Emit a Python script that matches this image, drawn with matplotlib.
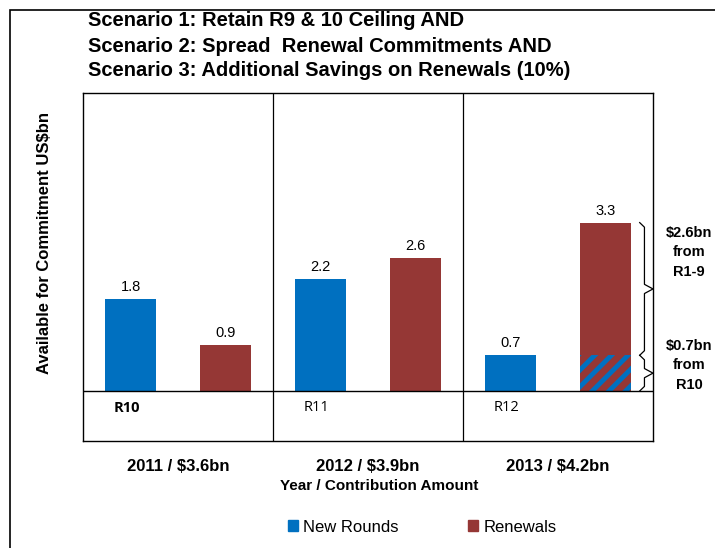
import matplotlib
matplotlib.use("Agg")
import matplotlib.pyplot as plt
from matplotlib.patches import Rectangle, Patch
from matplotlib.lines import Line2D

# Chart data
years = ["2011 / $3.6bn", "2012 / $3.9bn", "2013 / $4.2bn"]
rounds = ["R10", "R11", "R12"]
new_rounds = [1.8, 2.2, 0.7]
renewals = [0.9, 2.6, 3.3]
r10_carryover = 0.7          # part of the 2013 renewals funded from R10
title_lines = [
    "Scenario 1: Retain R9 & 10 Ceiling AND",
    "Scenario 2: Spread  Renewal Commitments AND",
    "Scenario 3: Additional Savings on Renewals (10%)",
]

BLUE = "#0070C0"
RED = "#953735"

plt.rcParams["font.family"] = ["Liberation Sans", "DejaVu Sans"]
plt.rcParams["hatch.linewidth"] = 3.5

fig = plt.figure(figsize=(7.15, 5.48), dpi=100)
ax = fig.add_axes([83 / 715, 1 - 441 / 548, 570 / 715, 348 / 548])

x = list(range(len(years)))
w = 0.264
off = 0.25
ax.bar([i - off for i in x], new_rounds, w, color=BLUE, zorder=2)
ax.bar([i + off for i in x], renewals, w, color=RED, zorder=2)
# striped base of the 2013 renewals bar
ax.bar(2 + off, r10_carryover, w, color=RED, edgecolor=BLUE, hatch="//",
       linewidth=0, zorder=3)

for i in x:
    ax.text(i - off, new_rounds[i] + 0.1, f"{new_rounds[i]:.1f}", ha="center",
            va="bottom", fontsize=10.5)
    ax.text(i + off, renewals[i] + 0.1, f"{renewals[i]:.1f}", ha="center",
            va="bottom", fontsize=10.5)
    ax.text(i - 0.34, -0.33, rounds[i], ha="left", va="center", fontsize=10.5,
            family=["Open Sans", "DejaVu Sans"],
            fontweight="bold" if i == 0 else "normal")

ax.set_xlim(-0.5, 2.5)
ax.set_ylim(-0.98, 5.84)
ax.axhline(0, color="black", lw=1, zorder=4)
for b in (0.5, 1.5):
    ax.axvline(b, color="black", lw=0.9)
for s in ax.spines.values():
    s.set_linewidth(1)
ax.set_yticks([])
ax.set_xticks(x)
ax.set_xticklabels(years, fontweight="bold", fontsize=12)
ax.tick_params(axis="x", length=0, pad=13)
ax.set_xlabel("Year / Contribution Amount", fontweight="bold", fontsize=11)
ax.xaxis.set_label_coords(0.52, -0.11)
ax.set_ylabel("Available for Commitment US$bn", fontweight="bold", fontsize=12)
ax.yaxis.set_label_coords(-0.055, 0.57)


def brace(y0, y1, xl=2.43, xm=2.455, xr=2.5, d=0.09):
    ym = (y0 + y1) / 2
    xs = [xl, xm, xm, xr, xm, xm, xl]
    ys = [y1, y1 - d, ym + d, ym, ym - d, y0 + d, y0]
    ax.add_line(Line2D(xs, ys, color="black", lw=0.9, clip_on=False, zorder=5))
    return ym


top = renewals[2]
ym1 = brace(r10_carryover, top)
ym2 = brace(0, r10_carryover)
ax.text(2.69, ym1 + 0.72, f"${top - r10_carryover:.1f}bn\nfrom\nR1-9",
        ha="center", va="center", fontweight="bold", fontsize=10.5,
        linespacing=1.5, clip_on=False)
ax.text(2.69, ym2 + 0.15, f"${r10_carryover:.1f}bn\nfrom\nR10",
        ha="center", va="center", fontweight="bold", fontsize=10.5,
        linespacing=1.5, clip_on=False)

# three-line heading
for k, line in enumerate(title_lines):
    fig.text(88 / 715, 1 - (21 + 25 * k) / 548, line, ha="left", va="center",
             fontweight="bold", fontsize=14.5)

handles = [Patch(color=BLUE, label="New Rounds"), Patch(color=RED, label="Renewals")]
fig.legend(handles=handles, loc="center", bbox_to_anchor=(422 / 715, 1 - 527 / 548),
           ncol=2, frameon=False, fontsize=12, handlelength=0.6, handleheight=0.6,
           handletextpad=0.3, columnspacing=4.2)

# outer frame running off the right and bottom edges
fig.add_artist(Rectangle((10 / 715, -0.1), 1.2, 1.1 - 10 / 548,
                         transform=fig.transFigure, fill=False,
                         edgecolor="black", lw=1.2))

fig.savefig("out.png", dpi=100)
